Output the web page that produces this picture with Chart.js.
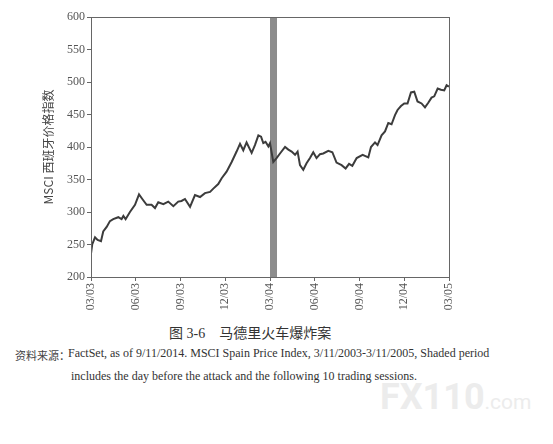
<!DOCTYPE html>
<html>
<head>
<meta charset="utf-8">
<script src="https://cdn.jsdelivr.net/npm/chart.js@4"></script>
<style>
    body { margin: 0; background: #fff; }
    #page { position: relative; width: 553px; height: 444px; overflow: hidden; background: #fff; }
    #chart-box { position: absolute; left: 0; top: 0; width: 553px; height: 320px; }
    .txt { position: absolute; white-space: nowrap; color: #333; }
    #caption { left: 169px; top: 322px; font: 14px "Liberation Serif", "Noto Sans CJK SC"; }
    #src-label { left: 15px; top: 347px; font: 11px "Noto Sans CJK SC"; color: #444; }
    #src1 { left: 68px; top: 346px; font: 12px "Liberation Serif"; }
    #src2 { left: 71px; top: 369px; font: 12px "Liberation Serif"; }
    #mark { left: 380px; top: 376px; font: bold 36px Roboto; color: #ececec; }
    #mark span { font: 21px Roboto; }
</style>
</head>
<body>
<div id="page">
    <div id="chart-box"><canvas id="madrid-chart"></canvas></div>
    <div class="txt" id="caption">图 3-6　马德里火车爆炸案</div>
    <div class="txt" id="src-label">资料来源：</div>
    <div class="txt" id="src1">FactSet, as of 9/11/2014. MSCI Spain Price Index, 3/11/2003-3/11/2005, Shaded period</div>
    <div class="txt" id="src2">includes the day before the attack and the following 10 trading sessions.</div>
    <div class="txt" id="mark">FX110<span>.com</span></div>
</div>
<script>
// x = months since 3/11/2003
const months = [
    0.00, 0.08, 0.27, 0.44, 0.67, 0.82, 1.05, 1.27, 1.49, 1.83,
    2.05, 2.17, 2.32, 2.61, 2.95, 3.22, 3.44, 3.73, 4.06, 4.29,
    4.51, 4.85, 5.18, 5.52, 5.85, 6.07, 6.30, 6.64, 6.97, 7.31,
    7.64, 7.98, 8.20, 8.53, 8.76, 9.09, 9.43, 9.76, 9.99, 10.21,
    10.43, 10.77, 10.99, 11.22, 11.40, 11.55, 11.70, 11.89, 12.00, 12.22,
    12.44, 12.67, 13.01, 13.23, 13.45, 13.68, 13.85, 14.01, 14.23, 14.45,
    14.68, 14.90, 15.12, 15.35, 15.57, 15.91, 16.18, 16.46, 16.80, 17.07,
    17.30, 17.52, 17.81, 18.21, 18.59, 18.77, 19.04, 19.21, 19.48, 19.71,
    19.93, 20.15, 20.38, 20.55, 20.78, 21.00, 21.22, 21.45, 21.67, 21.89,
    22.16, 22.39, 22.61, 22.83, 23.01, 23.24, 23.46, 23.68, 23.84, 24.00
];
const indexValues = [
    236, 250, 261, 257, 255, 270, 277, 286, 289, 292,
    289, 294, 289, 300, 311, 327, 320, 311, 311, 306,
    315, 312, 316, 309, 316, 317, 320, 308, 326, 323,
    329, 331, 336, 343, 352, 362, 377, 393, 405, 395,
    407, 391, 403, 418, 416, 406, 408, 401, 406, 377,
    383, 390, 400, 396, 393, 388, 393, 372, 365, 375,
    383, 392, 383, 389, 390, 394, 392, 376, 372, 367,
    374, 371, 383, 388, 384, 400, 407, 403, 418, 424,
    437, 435, 449, 457, 463, 467, 467, 484, 485, 470,
    467, 461, 468, 476, 478, 490, 488, 487, 495, 493
];
const tickLabels = ['03/03', '06/03', '09/03', '12/03', '03/04', '06/04', '09/04', '12/04', '03/05'];
// shaded period: day before the attack + 10 trading sessions
const shadeStart = 12.0;
const shadeEnd = 12.47;

const axisGrey = '#666';

Chart.defaults.font.family = 'Liberation Serif';
Chart.defaults.font.size = 12;

const shadePlugin = {
    id: 'shade',
    beforeDatasetsDraw: function(chart) {
        const ctx = chart.ctx;
        const x = chart.scales.x;
        const area = chart.chartArea;
        const x1 = x.getPixelForValue(shadeStart);
        const x2 = x.getPixelForValue(shadeEnd);
        ctx.save();
        ctx.fillStyle = '#8c8c8c';
        ctx.fillRect(x1, area.top, x2 - x1, area.bottom - area.top);
        ctx.restore();
    },
    afterDraw: function(chart) {
        // frame round the plot area
        const ctx = chart.ctx;
        const area = chart.chartArea;
        ctx.save();
        ctx.strokeStyle = axisGrey;
        ctx.lineWidth = 1;
        ctx.strokeRect(area.left + 0.5, area.top + 0.5, area.right - area.left, area.bottom - area.top);
        ctx.restore();
    }
};

const points = months.map((m, i) => ({ x: m, y: indexValues[i] }));

new Chart(document.getElementById('madrid-chart'), {
    type: 'line',
    data: {
        datasets: [{
            data: points,
            borderColor: '#3c3c3c',
            borderWidth: 2,
            pointRadius: 0,
            tension: 0
        }]
    },
    options: {
        responsive: true,
        maintainAspectRatio: false,
        animation: false,
        layout: { padding: { left: 37, right: 104, top: 17, bottom: 0 } },
        plugins: {
            legend: { display: false },
            tooltip: { enabled: false }
        },
        scales: {
            x: {
                type: 'linear',
                min: 0,
                max: 24,
                afterFit: function(scale) { scale.height = 43; },
                afterBuildTicks: function(scale) {
                    scale.ticks = tickLabels.map((t, i) => ({ value: i * 3 }));
                },
                ticks: {
                    callback: function(value) { return tickLabels[Math.round(value / 3)]; },
                    minRotation: 90,
                    maxRotation: 90,
                    padding: 2,
                    color: '#555'
                },
                grid: { drawOnChartArea: false, tickLength: 4, color: axisGrey },
                border: { color: axisGrey }
            },
            y: {
                min: 200,
                max: 600,
                afterFit: function(scale) { scale.width = 54; },
                ticks: {
                    stepSize: 50,
                    padding: 2,
                    color: '#555'
                },
                grid: { drawOnChartArea: false, tickLength: 4, color: axisGrey },
                border: { color: axisGrey },
                title: {
                    display: true,
                    text: 'MSCI 西班牙价格指数',
                    color: '#444',
                    font: { family: 'Noto Sans CJK SC', size: 12 }
                }
            }
        }
    },
    plugins: [shadePlugin]
});
</script>
</body>
</html>
